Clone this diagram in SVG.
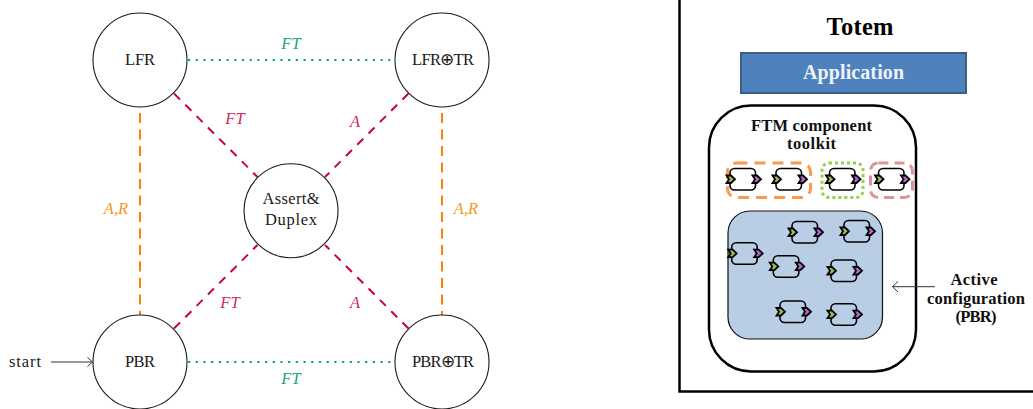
<svg xmlns="http://www.w3.org/2000/svg" width="1033" height="409" viewBox="0 0 1033 409">
<style>
text{font-family:"Liberation Serif","Times New Roman",serif;fill:#1a1a1a;text-anchor:middle}
.s{font-size:16.500px}
.i{font-size:16.500px;font-style:italic}
.b{font-weight:bold;font-size:16.500px;fill:#111}
.st{fill:#fff;stroke:#1a1a1a;stroke-width:1.100}
.dot{fill:none;stroke:#00a86b;stroke-width:2.200;stroke-dasharray:2.200 5.500}
.ora{fill:none;stroke:#ff8000;stroke-width:2;stroke-dasharray:10 6.500}
.mag{fill:none;stroke:#c7004c;stroke-width:2;stroke-dasharray:8.500 7.500}
.box{fill:none;stroke:#000;stroke-width:1.600}
.l{fill:#9bbb59;stroke:#000;stroke-width:1.800;stroke-linejoin:miter}
.r{fill:#b565d8;stroke:#000;stroke-width:1.800;stroke-linejoin:miter}
.arr{fill:none;stroke:#333;stroke-width:1}
</style>
<defs>
<g id="comp">
<rect class="box" x="0" y="0" width="25.500" height="21.500" rx="4.500"/>
<path class="l" d="M-3.500 7 L1 7 L5 10.700 L1 14.500 L-3.500 14.500 L-1 10.700 Z"/>
<path class="r" d="M22.500 7 L27 7 L31 10.700 L27 14.500 L22.500 14.500 L25 10.700 Z"/>
</g>
</defs>

<g id="connectors">
<path class="dot" d="M188 60H394"/>
<path class="dot" d="M188 362H394"/>
<path class="ora" d="M140 113V315"/>
<path class="ora" d="M442 113V315"/>
<path class="mag" d="M174 93.500L257.500 177"/>
<path class="mag" d="M408.500 93.500L325 177"/>
<path class="mag" d="M174 328.500L257.500 245"/>
<path class="mag" d="M408.500 328.500L325 245"/>
<path class="arr" d="M51 362H92M87.500 357.500L92.500 362L87.500 366.500"/>
</g>

<g id="edge-labels">
<text class="i" x="291" y="49" style="fill:#17a673">FT</text>
<text class="i" x="291" y="384" style="fill:#17a673">FT</text>
<text class="i" x="116" y="214" style="fill:#f7941d">A,R</text>
<text class="i" x="466" y="214" style="fill:#f7941d">A,R</text>
<text class="i" x="235" y="124" style="fill:#cc2a63">FT</text>
<text class="i" x="355" y="127" style="fill:#cc2a63">A</text>
<text class="i" x="230" y="308" style="fill:#cc2a63">FT</text>
<text class="i" x="355" y="308" style="fill:#cc2a63">A</text>
</g>

<g id="lfr"><circle class="st" cx="140" cy="60" r="47"/><text class="s" x="140" y="65" textLength="30">LFR</text></g>
<g id="lfr-tr"><circle class="st" cx="442" cy="60" r="47"/><text class="s" x="443" y="65" textLength="62">LFR⊕TR</text></g>
<g id="pbr"><circle class="st" cx="140" cy="362" r="47"/><text class="s" x="140" y="367" textLength="30">PBR</text></g>
<g id="pbr-tr"><circle class="st" cx="442" cy="362" r="47"/><text class="s" x="443" y="367" textLength="62">PBR⊕TR</text></g>
<g id="assert"><circle class="st" cx="291" cy="210.700" r="47"/><text class="s" x="291" y="204" textLength="57">Assert&amp;</text><text class="s" x="291" y="225" textLength="52">Duplex</text></g>
<g id="start"><text class="s" x="25" y="367" textLength="32">start</text></g>

<g id="totem">
<path d="M679.500 0V391.500H1033" fill="none" stroke="#000" stroke-width="2.500"/>
<text x="860" y="35" textLength="67" style="font-size:24.500px;font-weight:bold;fill:#000">Totem</text>
</g>
<g id="application">
<rect x="741" y="53" width="225" height="40" fill="#4f81bd" stroke="#385d8a" stroke-width="2"/>
<text x="853.500" y="79" textLength="101" style="font-size:20px;font-weight:bold;fill:#eef3fa">Application</text>
</g>
<g id="ftm">
<rect x="709" y="105.500" width="207" height="266" rx="42" fill="#fff" stroke="#000" stroke-width="2.500"/>
<text class="b" x="811.500" y="131" textLength="121">FTM component</text>
<text class="b" x="811.500" y="149" textLength="49">toolkit</text>
</g>
<g id="group-orange"><rect x="727.500" y="163" width="83" height="34.500" rx="9" fill="none" stroke="#fb9a4e" stroke-width="3" stroke-dasharray="11 7"/>
<use href="#comp" x="730" y="168.500"/><use href="#comp" x="776" y="168.500"/></g>
<g id="group-green"><rect x="822" y="163" width="41" height="34.500" rx="7" fill="none" stroke="#92d050" stroke-width="3" stroke-dasharray="3 3"/>
<use href="#comp" x="829.500" y="168.500"/></g>
<g id="group-pink"><rect x="870.500" y="163" width="42" height="34.500" rx="8" fill="none" stroke="#d99694" stroke-width="3" stroke-dasharray="10 6"/>
<use href="#comp" x="878.500" y="168.500"/></g>
<g id="active">
<rect x="728" y="211" width="154.500" height="128" rx="22" fill="#b9cde5" stroke="#111" stroke-width="1.200"/>
<use href="#comp" x="792" y="221.500"/>
<use href="#comp" x="844" y="220.500"/>
<use href="#comp" x="731.700" y="242.700"/>
<use href="#comp" x="773.300" y="255.700"/>
<use href="#comp" x="831" y="260"/>
<use href="#comp" x="780" y="301"/>
<use href="#comp" x="831" y="303.700"/>
</g>
<g id="active-label">
<path class="arr" d="M935 286.700H892.500M898 281.500L892.500 286.700L898 292"/>
<text class="b" x="974" y="285" textLength="47">Active</text>
<text class="b" x="976" y="304" textLength="98">configuration</text>
<text class="b" x="976" y="322" textLength="41">(PBR)</text>
</g>
</svg>
